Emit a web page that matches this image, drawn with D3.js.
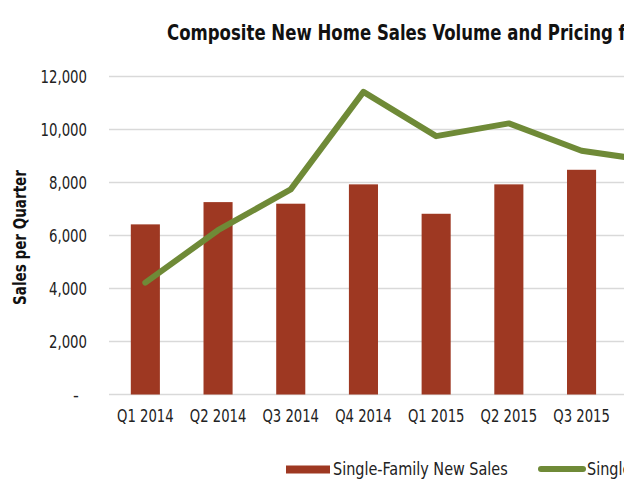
<!DOCTYPE html>
<html><head><meta charset="utf-8">
<script src="https://cdn.jsdelivr.net/npm/d3@7"></script>
<style>
body{margin:0;background:#fff;}
svg{display:block;}
text{font-family:"DejaVu Sans Condensed","DejaVu Sans",sans-serif;font-stretch:condensed;}
</style></head><body>
<svg id="c" width="624" height="500"></svg>
<script>
const categories = ["Q1 2014","Q2 2014","Q3 2014","Q4 2014","Q1 2015","Q2 2015","Q3 2015","Q4 2015"];
const newSales   = [6420, 7260, 7200, 7930, 6820, 7930, 8480, null];
const priceLine  = [4220, 6200, 7740, 11420, 9750, 10230, 9200, 8800];
const yTicks     = [0, 2000, 4000, 6000, 8000, 10000, 12000];
const titleText  = "Composite New Home Sales Volume and Pricing for";
const seriesNames = ["Single-Family New Sales", "Single-Family Pricing"];

const svg = d3.select("#c");
const barColor = "#9e3822", lineColor = "#6f8a37", gridColor = "#d9d9d9";

// measure helper: horizontal compression so a sample string gets a target width
function squeeze(sample, size, weight, target) {
  const t = svg.append("text").attr("font-size", size).attr("font-weight", weight).text(sample);
  const w = t.node().getComputedTextLength();
  t.remove();
  return target / w;
}

const x0 = 109, step = 72.7;
const x = d3.scaleBand().domain(categories).range([x0, x0 + step*categories.length]).paddingInner(0.6).paddingOuter(0.3);
const y = d3.scaleLinear().domain([0, 12000]).range([394.5, 76.5]);

// gridlines
svg.append("g").selectAll("line").data(yTicks).join("line")
  .attr("x1", x0).attr("x2", 624)
  .attr("y1", d => y(d)).attr("y2", d => y(d))
  .attr("stroke", gridColor).attr("stroke-width", 1.5);

// y axis labels
const kY = squeeze("12,000", 18, "normal", 46.5);
const yAxis = d3.axisLeft(y).tickValues(yTicks).tickSize(0).tickPadding(0)
  .tickFormat(d => d === 0 ? "-" : d3.format(",")(d));
const ya = svg.append("g").attr("transform", "translate(87,0)").call(yAxis);
ya.select(".domain").remove();
ya.selectAll("text").attr("font-size", 18).attr("fill", "#222").attr("font-family", null)
  .attr("dy", "0.36em")
  .attr("transform", d => d === 0 ? null : `scale(${kY},1)`)
  .attr("text-anchor", d => d === 0 ? "middle" : "end")
  .attr("x", d => d === 0 ? -11 : 0);

// bars
svg.append("g").selectAll("rect").data(categories.map((c,i)=>({c, v:newSales[i]})).filter(d=>d.v!=null)).join("rect")
  .attr("x", d => x(d.c)).attr("width", x.bandwidth())
  .attr("y", d => y(d.v)).attr("height", d => y(0) - y(d.v))
  .attr("fill", barColor);

// x axis labels
const kX = squeeze("Q1 2014", 18, "normal", 56.6);
const xAxis = d3.axisBottom(x).tickSize(0).tickPadding(0);
const xa = svg.append("g").attr("transform", "translate(0,422)").call(xAxis);
xa.select(".domain").remove();
xa.selectAll("text").attr("font-size", 18).attr("fill", "#222").attr("dy", 0).attr("font-family", null)
  .attr("transform", `scale(${kX},1)`);

// line
const line = d3.line().x((d,i) => x(categories[i]) + x.bandwidth()/2).y(d => y(d));
svg.append("path").datum(priceLine).attr("d", line)
  .attr("fill", "none").attr("stroke", lineColor).attr("stroke-width", 6)
  .attr("stroke-linecap", "round").attr("stroke-linejoin", "round");

// y title
const kT = squeeze("Sales per Quarter", 18, "bold", 135);
svg.append("text").attr("transform", `translate(26,237.5) rotate(-90) scale(${kT},1)`)
  .attr("text-anchor", "middle").attr("font-size", 18).attr("font-weight", "bold").attr("fill", "#111")
  .text("Sales per Quarter");

// title
const kH = squeeze("Composite New Home Sales Volume and Pricing", 20.5, "bold", 446);
svg.append("text").attr("transform", `translate(167,40) scale(${kH},1)`)
  .attr("font-size", 20.5).attr("font-weight", "bold").attr("fill", "#111")
  .text(titleText);

// legend
const kL = squeeze("Single-Family New Sales", 17.5, "normal", 175);
const lg = svg.append("g");
lg.append("rect").attr("x", 286).attr("y", 465.5).attr("width", 44).attr("height", 8).attr("fill", barColor);
lg.append("text").attr("transform", `translate(333,475) scale(${kL},1)`).attr("font-size", 17.5).attr("fill", "#222").text(seriesNames[0]);
lg.append("line").attr("x1", 541).attr("x2", 583).attr("y1", 469).attr("y2", 469)
  .attr("stroke", lineColor).attr("stroke-width", 6).attr("stroke-linecap", "round");
lg.append("text").attr("transform", `translate(587,475) scale(${kL},1)`).attr("font-size", 17.5).attr("fill", "#222").text(seriesNames[1]);
</script>
</body></html>
